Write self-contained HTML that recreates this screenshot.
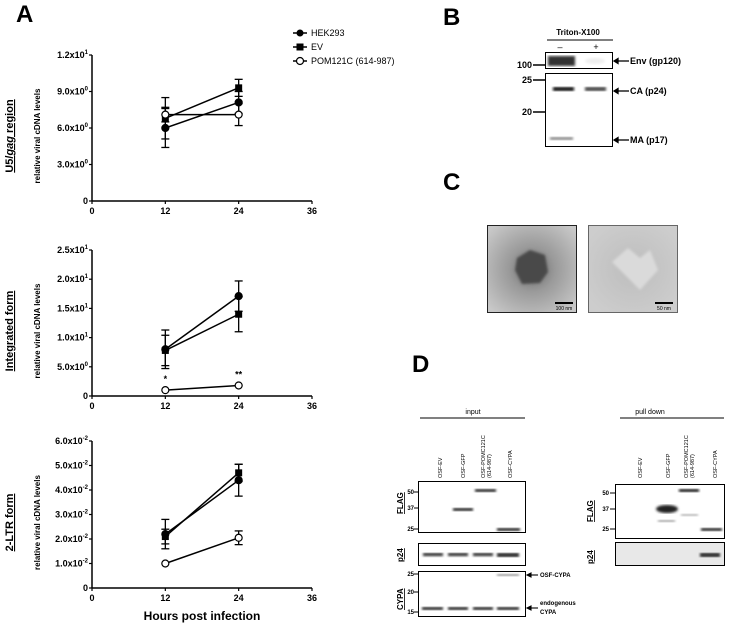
<!DOCTYPE html>
<html><head><meta charset="utf-8"><style>
body{margin:0;background:#fff;}
svg{display:block;font-family:"Liberation Sans",Arial,sans-serif;}
</style></head><body>
<svg id="fig" width="733" height="625" viewBox="0 0 733 625">
<defs>
<filter id="blur1"><feGaussianBlur stdDeviation="1.2"/></filter>
<filter id="blur2"><feGaussianBlur stdDeviation="2"/></filter>
<radialGradient id="em1" cx="50%" cy="50%" r="65%"><stop offset="0" stop-color="#6a6a6a"/><stop offset="0.4" stop-color="#9a9a9a"/><stop offset="1" stop-color="#c8c8c8"/></radialGradient>
<radialGradient id="em2" cx="50%" cy="50%" r="60%"><stop offset="0" stop-color="#bdbdbd"/><stop offset="1" stop-color="#cdcdcd"/></radialGradient>
</defs>
<g id="charts"></g>
<text x="16" y="22" font-size="24" font-weight="bold">A</text>
<g font-size="9">
 <g><line x1="293" y1="33" x2="307" y2="33" stroke="#000" stroke-width="1.5"/><circle cx="300" cy="33" r="3.5" fill="#000"/><text x="311" y="36">HEK293</text></g>
 <g><line x1="293" y1="47" x2="307" y2="47" stroke="#000" stroke-width="1.5"/><rect x="296.5" y="43.5" width="7" height="7" fill="#000"/><text x="311" y="50">EV</text></g>
 <g><line x1="293" y1="61" x2="307" y2="61" stroke="#000" stroke-width="1.5"/><circle cx="300" cy="61" r="3.5" fill="#fff" stroke="#000" stroke-width="1.2"/><text x="311" y="64">POM121C (614-987)</text></g>
</g>
<text x="202" y="620" font-size="12" font-weight="bold" text-anchor="middle">Hours post infection</text>

<g>
<text x="443" y="25" font-size="24" font-weight="bold">B</text>
<text x="578" y="35" font-size="8" font-weight="bold" text-anchor="middle">Triton-X100</text>
<line x1="547" y1="40" x2="613" y2="40" stroke="#000" stroke-width="1"/>
<text x="560" y="50" font-size="9" text-anchor="middle">–</text>
<text x="596" y="50" font-size="9" text-anchor="middle">+</text>
<rect x="545.5" y="52.5" width="67" height="16" fill="#fff" stroke="#000"/>
<rect x="548" y="56" width="27" height="10" fill="#333" filter="url(#blur1)"/>
<ellipse cx="595" cy="61" rx="10" ry="3" fill="#eee" filter="url(#blur1)"/>
<rect x="545.5" y="73.5" width="67" height="73" fill="#fff" stroke="#000"/>
<rect x="553" y="87" width="21" height="4" fill="#111" filter="url(#blur1)"/>
<rect x="585" y="87" width="21" height="4" fill="#444" filter="url(#blur1)"/>
<rect x="550" y="137" width="23" height="3" fill="#888" filter="url(#blur1)"/>
<g font-size="9" font-weight="bold">
<text x="532" y="68" text-anchor="end">100</text><line x1="533" y1="65" x2="545" y2="65" stroke="#000" stroke-width="1.5"/>
<text x="532" y="83" text-anchor="end">25</text><line x1="533" y1="80" x2="545" y2="80" stroke="#000" stroke-width="1.5"/>
<text x="532" y="115" text-anchor="end">20</text><line x1="533" y1="112" x2="545" y2="112" stroke="#000" stroke-width="1.5"/>
<text x="630" y="64">Env (gp120)</text><text x="630" y="94">CA (p24)</text><text x="630" y="143">MA (p17)</text>
</g>
<g stroke="#000" stroke-width="1.3" fill="#000">
<line x1="616" y1="61" x2="629" y2="61"/><path d="M614 61 l4 -2.5 v5z"/>
<line x1="616" y1="91" x2="629" y2="91"/><path d="M614 91 l4 -2.5 v5z"/>
<line x1="616" y1="140" x2="629" y2="140"/><path d="M614 140 l4 -2.5 v5z"/>
</g>
</g>

<g>
<text x="443" y="190" font-size="24" font-weight="bold">C</text>
<rect x="487.5" y="225.5" width="89" height="87" fill="url(#em1)" stroke="#222"/>
<path d="M517 258 L530 250 L545 255 L548 272 L540 283 L522 284 L515 270 Z" fill="#4a4a4a" filter="url(#blur1)"/>
<rect x="555" y="302" width="18" height="2" fill="#000"/>
<text x="564" y="310" font-size="5" text-anchor="middle" fill="#000">100 nm</text>
<rect x="588.5" y="225.5" width="89" height="87" fill="url(#em2)" stroke="#666"/>
<path d="M612 262 L628 248 L640 258 L650 250 L658 270 L640 290 Z" fill="#dadada" filter="url(#blur1)"/>
<rect x="655" y="302" width="18" height="2" fill="#000"/>
<text x="664" y="310" font-size="5" text-anchor="middle" fill="#000">50 nm</text>
</g>

<g>
<text x="412" y="372" font-size="24" font-weight="bold">D</text>
<text x="473" y="414" font-size="7" text-anchor="middle">input</text>
<line x1="420" y1="418" x2="525" y2="418" stroke="#000"/>
<g font-size="5.5">
<text transform="translate(442,478) rotate(-90)">OSF-EV</text>
<text transform="translate(465,478) rotate(-90)">OSF-GFP</text>
<text transform="translate(485,478) rotate(-90)">OSF-POMC121C</text>
<text transform="translate(491,478) rotate(-90)">(614-987)</text>
<text transform="translate(512,478) rotate(-90)">OSF-CYPA</text>
</g>
<rect x="418.5" y="481.5" width="107" height="51" fill="#fff" stroke="#000"/>
<rect x="453" y="508" width="20" height="3" fill="#222" filter="url(#blur1)"/>
<rect x="475" y="489" width="21" height="3" fill="#222" filter="url(#blur1)"/>
<rect x="497" y="528" width="23" height="3" fill="#222" filter="url(#blur1)"/>
<rect x="418.5" y="543.5" width="107" height="22" fill="#fff" stroke="#000"/>
<g fill="#222" filter="url(#blur1)"><rect x="423" y="553" width="20" height="3"/><rect x="448" y="553" width="20" height="3"/><rect x="473" y="553" width="20" height="3"/><rect x="497" y="553" width="22" height="4"/></g>
<rect x="418.5" y="571.5" width="107" height="45" fill="#fff" stroke="#000"/>
<rect x="497" y="574" width="22" height="2" fill="#888" filter="url(#blur1)"/>
<g fill="#222" filter="url(#blur1)"><rect x="422" y="607" width="21" height="3"/><rect x="448" y="607" width="20" height="3"/><rect x="473" y="607" width="20" height="3"/><rect x="497" y="607" width="22" height="3"/></g>
<g font-size="6" font-weight="bold">
<text x="414" y="494" text-anchor="end">50</text><line x1="414" y1="492" x2="418" y2="492" stroke="#000"/>
<text x="414" y="510" text-anchor="end">37</text><line x1="414" y1="508" x2="418" y2="508" stroke="#000"/>
<text x="414" y="531" text-anchor="end">25</text><line x1="414" y1="529" x2="418" y2="529" stroke="#000"/>
<text x="414" y="576" text-anchor="end">25</text><line x1="414" y1="574" x2="418" y2="574" stroke="#000"/>
<text x="414" y="594" text-anchor="end">20</text><line x1="414" y1="592" x2="418" y2="592" stroke="#000"/>
<text x="414" y="614" text-anchor="end">15</text><line x1="414" y1="612" x2="418" y2="612" stroke="#000"/>
</g>
<g font-size="8" font-weight="bold" text-decoration="underline">
<text transform="translate(403,514) rotate(-90)">FLAG</text>
<text transform="translate(403,562) rotate(-90)">p24</text>
<text transform="translate(403,610) rotate(-90)">CYPA</text>
</g>
<g stroke="#000" stroke-width="1.1" fill="#000">
<line x1="530" y1="575" x2="538" y2="575"/><path d="M527 575 l4 -2 v4z"/>
<line x1="530" y1="608" x2="538" y2="608"/><path d="M527 608 l4 -2 v4z"/>
</g>
<g font-size="6" font-weight="bold"><text x="540" y="577">OSF-CYPA</text><text x="540" y="605">endogenous</text><text x="540" y="614">CYPA</text></g>

<text x="650" y="414" font-size="7" text-anchor="middle">pull down</text>
<line x1="620" y1="418" x2="724" y2="418" stroke="#000"/>
<g font-size="5.5">
<text transform="translate(642,478) rotate(-90)">OSF-EV</text>
<text transform="translate(670,478) rotate(-90)">OSF-GFP</text>
<text transform="translate(688,478) rotate(-90)">OSF-POMC121C</text>
<text transform="translate(694,478) rotate(-90)">(614-987)</text>
<text transform="translate(717,478) rotate(-90)">OSF-CYPA</text>
</g>
<rect x="615.5" y="484.5" width="109" height="54" fill="#fff" stroke="#000"/>
<ellipse cx="667" cy="509" rx="11" ry="4" fill="#222" filter="url(#blur1)"/>
<rect x="658" y="520" width="17" height="2" fill="#999" filter="url(#blur1)"/>
<rect x="679" y="489" width="20" height="3" fill="#111" filter="url(#blur1)"/>
<rect x="681" y="514" width="17" height="2" fill="#aaa" filter="url(#blur1)"/>
<rect x="701" y="528" width="21" height="3" fill="#222" filter="url(#blur1)"/>
<rect x="615.5" y="542.5" width="109" height="23" fill="#e8e8e8" stroke="#000"/>
<rect x="700" y="553" width="20" height="4" fill="#222" filter="url(#blur1)"/>
<g font-size="6" font-weight="bold">
<text x="609" y="495" text-anchor="end">50</text><line x1="610" y1="493" x2="615" y2="493" stroke="#000"/>
<text x="609" y="511" text-anchor="end">37</text><line x1="610" y1="509" x2="615" y2="509" stroke="#000"/>
<text x="609" y="531" text-anchor="end">25</text><line x1="610" y1="529" x2="615" y2="529" stroke="#000"/>
</g>
<g font-size="8" font-weight="bold" text-decoration="underline">
<text transform="translate(593,522) rotate(-90)">FLAG</text>
<text transform="translate(593,564) rotate(-90)">p24</text>
</g>
</g>
</svg>
<script>
const xCats = [12, 24];
const xTicks = [0, 12, 24, 36];
const c1Hek = [6.0, 8.1], c1HekErr = [1.6, 0.9];
const c1Ev = [6.8, 9.3], c1EvErr = [1.7, 0.7];
const c1Pom = [7.1, 7.1], c1PomErr = [0.6, 0.9];
const c1Ticks = [0, 3, 6, 9, 12];
const c1Labels = ["0", "3.0x10<sup>0</sup>", "6.0x10<sup>0</sup>", "9.0x10<sup>0</sup>", "1.2x10<sup>1</sup>"];
const c2Hek = [8.0, 17.1], c2HekErr = [3.3, 2.6];
const c2Ev = [7.8, 14.0], c2EvErr = [2.6, 3.0];
const c2Pom = [1.0, 1.8], c2PomErr = [0, 0];
const c2Ticks = [0, 5, 10, 15, 20, 25];
const c2Labels = ["0", "5.0x10<sup>0</sup>", "1.0x10<sup>1</sup>", "1.5x10<sup>1</sup>", "2.0x10<sup>1</sup>", "2.5x10<sup>1</sup>"];
const c3Hek = [2.2, 4.4], c3HekErr = [0.6, 0.65];
const c3Ev = [2.1, 4.7], c3EvErr = [0.3, 0.35];
const c3Pom = [1.0, 2.05], c3PomErr = [0, 0.28];
const c3Ticks = [0, 1, 2, 3, 4, 5, 6];
const c3Labels = ["0", "1.0x10<sup>-2</sup>", "2.0x10<sup>-2</sup>", "3.0x10<sup>-2</sup>", "4.0x10<sup>-2</sup>", "5.0x10<sup>-2</sup>", "6.0x10<sup>-2</sup>"];

const NS = "http://www.w3.org/2000/svg";
const root = document.getElementById('charts');
function mk(tag, attrs, parent) {
  const e = document.createElementNS(NS, tag);
  for (const k in attrs) e.setAttribute(k, attrs[k]);
  parent.appendChild(e);
  return e;
}
function supText(parent, x, y, html, anchor) {
  const t = mk('text', {x: x, y: y, 'font-size': 9, 'font-weight': 'bold', 'text-anchor': anchor}, parent);
  const m = html.match(/^(.*?)<sup>(.*)<\/sup>$/);
  if (m) {
    const a = document.createElementNS(NS, 'tspan'); a.textContent = m[1]; t.appendChild(a);
    const b = document.createElementNS(NS, 'tspan'); b.setAttribute('font-size', 6); b.setAttribute('dy', -4); b.textContent = m[2]; t.appendChild(b);
  } else t.textContent = html;
  return t;
}
function chart(id, top, bottom, yMax, ticks, labels, series, title, stars) {
  const g = mk('g', {}, root);
  
  
  const x0 = 92, x1 = 312;
  const sx = v => x0 + (v / 36) * (x1 - x0);
  const sy = v => bottom - (v / yMax) * (bottom - top);
  mk('line', {x1: x0, y1: top, x2: x0, y2: bottom, stroke: '#000', 'stroke-width': 1.5}, g);
  mk('line', {x1: x0, y1: bottom, x2: x1, y2: bottom, stroke: '#000', 'stroke-width': 1.5}, g);
  ticks.forEach((t, i) => {
    mk('line', {x1: x0 - 3, y1: sy(t), x2: x0, y2: sy(t), stroke: '#000', 'stroke-width': 1.2}, g);
    const lab = supText(g, x0 - 4, sy(t) + 3, labels[i], 'end');
    
    
  });
  xTicks.forEach(t => {
    mk('line', {x1: sx(t), y1: bottom, x2: sx(t), y2: bottom + 3, stroke: '#000', 'stroke-width': 1.2}, g);
    const lab = mk('text', {x: sx(t), y: bottom + 13, 'font-size': 9, 'font-weight': 'bold', 'text-anchor': 'middle'}, g);
    lab.textContent = t;
    
    
  });
  const yl = mk('text', {transform: `translate(40,${(top + bottom) / 2 + 8}) rotate(-90)`, 'font-size': 8, 'font-weight': 'bold', 'text-anchor': 'middle'}, g);
  yl.textContent = 'relative viral cDNA levels';
  
  
  const tl = mk('text', {transform: `translate(13,${(top + bottom) / 2 + 8}) rotate(-90)`, 'font-size': 11, 'font-weight': 'bold', 'text-anchor': 'middle', 'text-decoration': 'underline'}, g);
  if (title === 'U5/gag region') {
    const a = document.createElementNS(NS, 'tspan'); a.textContent = 'U5/'; tl.appendChild(a);
    const b = document.createElementNS(NS, 'tspan'); b.setAttribute('font-style', 'italic'); b.textContent = 'gag'; tl.appendChild(b);
    const c = document.createElementNS(NS, 'tspan'); c.textContent = ' region'; tl.appendChild(c);
  } else tl.textContent = title;
  
  
  series.forEach(s => {
    const sg = mk('g', {}, g);
    
    
    s.vals.forEach((v, i) => {
      const e = s.err[i];
      if (e > 0) {
        const x = sx(xCats[i]);
        mk('line', {x1: x, y1: sy(v - e), x2: x, y2: sy(v + e), stroke: '#000', 'stroke-width': 1.3}, sg);
        mk('line', {x1: x - 4, y1: sy(v - e), x2: x + 4, y2: sy(v - e), stroke: '#000', 'stroke-width': 1.3}, sg);
        mk('line', {x1: x - 4, y1: sy(v + e), x2: x + 4, y2: sy(v + e), stroke: '#000', 'stroke-width': 1.3}, sg);
      }
    });
    mk('line', {x1: sx(xCats[0]), y1: sy(s.vals[0]), x2: sx(xCats[1]), y2: sy(s.vals[1]), stroke: '#000', 'stroke-width': 1.5}, sg);
    s.vals.forEach((v, i) => {
      let m;
      if (s.shape === 'square') m = mk('rect', {x: sx(xCats[i]) - 3.5, y: sy(v) - 3.5, width: 7, height: 7, fill: '#000'}, sg);
      else m = mk('circle', {cx: sx(xCats[i]), cy: sy(v), r: 3.5, fill: s.shape === 'open' ? '#fff' : '#000', stroke: '#000', 'stroke-width': 1.2}, sg);
      
      
    });
  });
  if (stars) stars.forEach((st, i) => {
    const t = mk('text', {x: sx(xCats[i]), y: sy(series[2].vals[i]) - 8, 'font-size': 9, 'font-weight': 'bold', 'text-anchor': 'middle'}, g);
    t.textContent = st;
    
    
  });
}
chart('chart-u5-gag', 55, 201, 12, c1Ticks, c1Labels, [
  {name: 'hek293', vals: c1Hek, err: c1HekErr, shape: 'filled'},
  {name: 'ev', vals: c1Ev, err: c1EvErr, shape: 'square'},
  {name: 'pom121c', vals: c1Pom, err: c1PomErr, shape: 'open'}], 'U5/gag region');
chart('chart-integrated', 250, 396, 25, c2Ticks, c2Labels, [
  {name: 'hek293', vals: c2Hek, err: c2HekErr, shape: 'filled'},
  {name: 'ev', vals: c2Ev, err: c2EvErr, shape: 'square'},
  {name: 'pom121c', vals: c2Pom, err: c2PomErr, shape: 'open'}], 'Integrated form', ['*', '**']);
chart('chart-2ltr', 441, 588, 6, c3Ticks, c3Labels, [
  {name: 'hek293', vals: c3Hek, err: c3HekErr, shape: 'filled'},
  {name: 'ev', vals: c3Ev, err: c3EvErr, shape: 'square'},
  {name: 'pom121c', vals: c3Pom, err: c3PomErr, shape: 'open'}], '2-LTR form');
</script>
</body></html>
